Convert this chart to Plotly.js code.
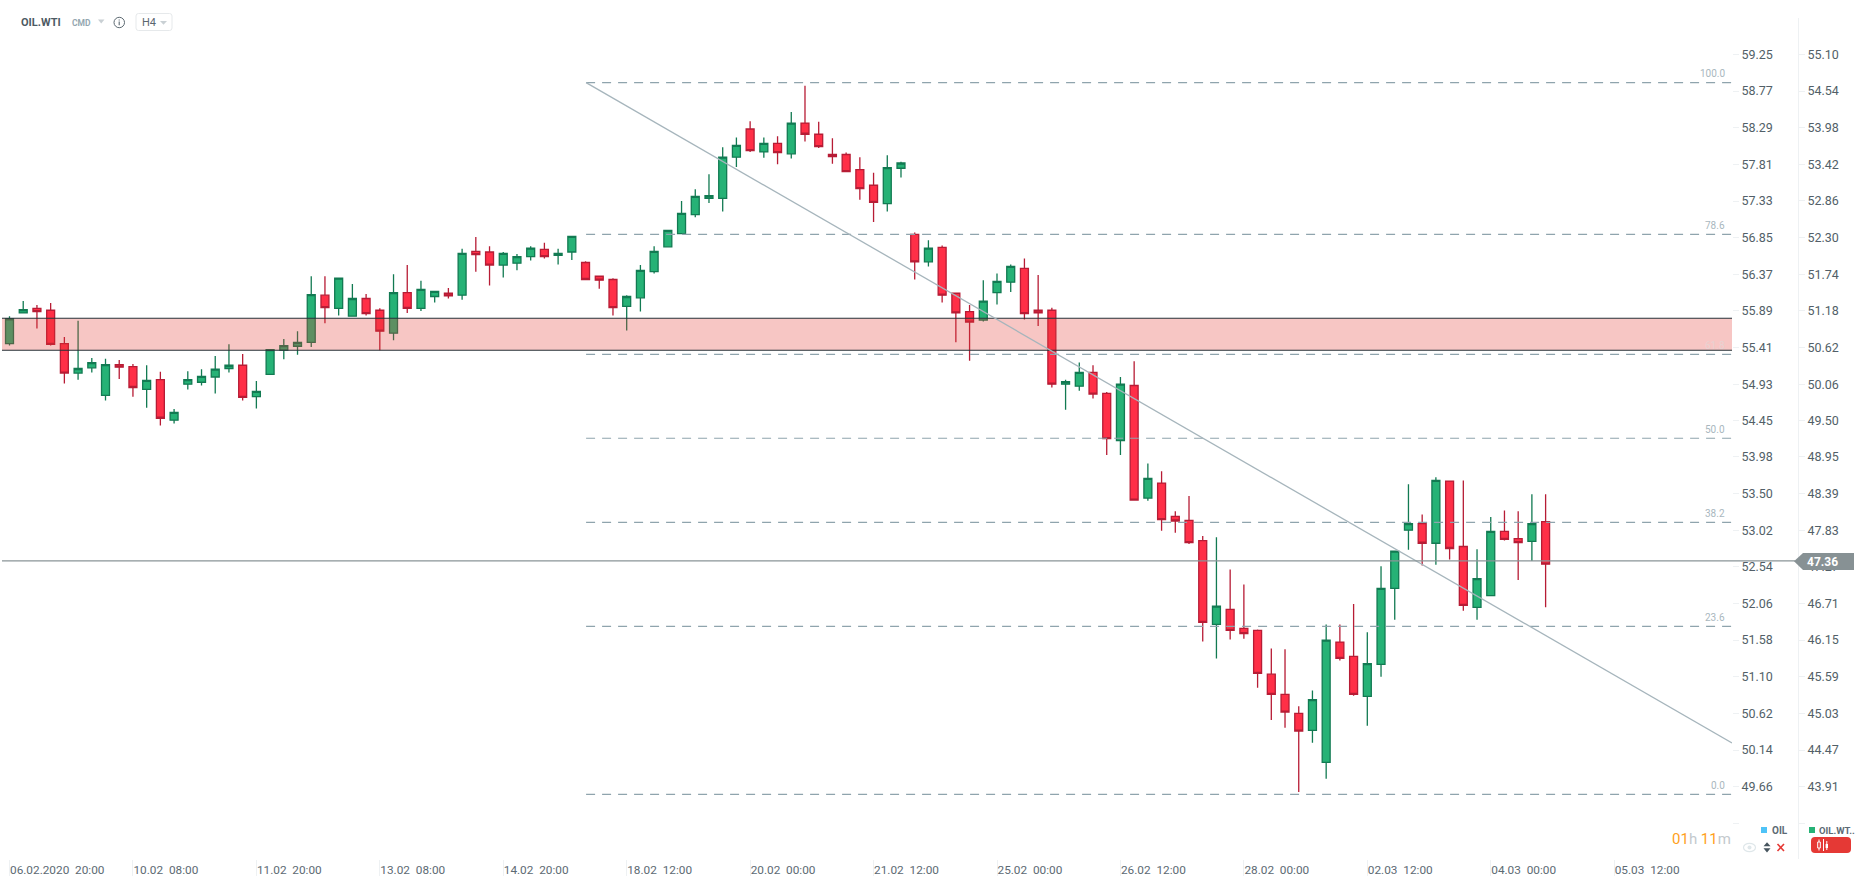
<!DOCTYPE html>
<html>
<head>
<meta charset="utf-8">
<script src="https://cdn.plot.ly/plotly-3.0.1.min.js"></script>
<style>html,body{margin:0;padding:0;background:#fff;overflow:hidden}#chart{width:1866px;height:885px}</style>
</head>
<body>
<div id="chart"></div>
<script>
// OIL.WTI H4 candles (right-hand price scale)
const opens = [
50.68,51.15,51.22,51.19,50.68,50.23,50.31,49.89,50.36,50.33,49.98,50.13,49.51,50.06,50.09,50.17,50.30,50.35,49.87,50.21,
50.58,50.64,50.70,51.42,51.22,51.10,51.37,51.19,50.84,51.46,51.22,51.40,51.45,51.42,52.09,52.08,51.88,51.91,52.01,52.12,
52.03,52.08,51.92,51.71,51.66,51.25,51.38,51.78,52.16,52.36,52.65,52.90,52.90,53.53,53.96,53.61,53.74,53.58,54.05,53.88,
53.57,53.57,53.34,53.10,52.82,53.36,52.35,51.93,52.15,51.45,51.17,51.04,51.46,51.62,51.83,51.19,51.19,50.06,50.03,50.24,
49.92,49.20,50.04,48.32,48.55,48.04,47.98,47.67,46.39,46.62,46.33,46.30,45.63,45.32,45.03,44.77,44.28,46.12,45.90,45.29,
45.78,46.94,47.83,47.93,47.63,48.58,47.58,46.65,46.83,47.81,47.70,47.66,47.96];
const highs = [
51.10,51.33,51.27,51.30,50.78,51.03,50.46,50.45,50.43,50.37,50.35,50.25,49.68,50.26,50.29,50.49,50.67,50.52,50.11,50.59,
50.75,50.87,51.71,51.71,51.68,51.59,51.44,51.22,51.74,51.88,51.64,51.48,51.53,52.13,52.31,52.17,52.08,52.05,52.17,52.22,
52.13,52.32,51.94,51.71,51.68,51.42,51.88,52.17,52.41,52.86,53.04,53.27,53.68,53.83,54.08,53.83,53.85,54.22,54.62,54.07,
53.82,53.60,53.53,53.29,53.56,53.46,52.38,52.26,52.18,51.46,51.27,51.65,51.75,51.89,51.98,51.73,51.23,50.13,50.39,50.35,
49.94,50.17,50.41,48.85,48.73,48.12,48.35,47.74,47.72,47.23,47.00,46.31,46.02,46.01,45.14,45.38,46.39,46.39,46.70,46.27,
47.28,47.51,48.53,48.07,48.64,48.58,48.59,47.54,48.03,48.13,48.12,48.38,48.38];
const lows = [
50.65,51.15,50.91,50.65,50.07,50.13,50.24,49.81,50.14,49.87,49.70,49.43,49.46,49.98,50.04,49.92,50.24,49.81,49.69,50.21,
50.44,50.51,50.63,50.99,51.11,51.10,51.11,50.58,50.73,51.15,51.18,51.31,51.37,51.35,51.78,51.57,51.69,51.80,51.95,51.98,
51.89,51.96,51.66,51.52,51.11,50.88,51.17,51.75,52.15,52.36,52.61,52.83,52.70,53.38,53.61,53.52,53.42,53.51,53.77,53.67,
53.43,53.31,52.88,52.54,52.70,53.22,51.66,51.86,51.31,50.70,50.42,51.02,51.28,51.47,51.05,50.95,50.01,49.67,49.96,49.84,
48.98,48.98,48.29,48.28,47.82,47.79,47.62,46.13,45.87,46.16,46.17,45.42,44.93,44.81,43.83,44.58,44.03,45.84,45.30,44.84,
45.59,46.46,47.53,47.29,47.30,47.38,46.60,46.46,46.83,47.67,47.07,47.36,46.65];
const closes = [
51.06,51.20,51.17,50.67,50.23,50.30,50.39,50.36,50.32,50.01,50.12,49.54,49.63,50.13,50.18,50.29,50.35,49.86,49.95,50.59,
50.65,50.70,51.43,51.23,51.68,51.37,51.14,50.87,51.46,51.22,51.51,51.48,51.41,52.06,52.04,51.88,52.06,52.01,52.14,52.01,
52.06,52.32,51.66,51.65,51.23,51.40,51.80,52.09,52.41,52.67,52.93,52.94,53.53,53.71,53.63,53.74,53.60,54.05,53.88,53.69,
53.54,53.31,53.05,52.84,53.37,53.44,51.93,52.14,51.42,51.15,51.01,51.33,51.63,51.86,51.14,51.15,50.06,50.10,50.24,49.91,
49.23,50.06,48.29,48.62,47.99,47.97,47.64,46.42,46.67,46.30,46.25,45.64,45.32,45.05,44.76,45.24,46.15,45.87,45.32,45.79,
46.94,47.51,47.93,47.63,48.59,47.55,46.68,47.09,47.81,47.69,47.64,47.93,47.31];

const xTickIndex = [0,9,18,27,36,45,54,63,72,81,90,99,108,117];
const xTickText = ['06.02.2020  20:00','10.02  08:00','11.02  20:00','13.02  08:00','14.02  20:00','18.02  12:00','20.02  00:00',
  '21.02  12:00','25.02  00:00','26.02  12:00','28.02  00:00','02.03  12:00','04.03  00:00','05.03  12:00'];

const oilTicks = [59.25,58.77,58.29,57.81,57.33,56.85,56.37,55.89,55.41,54.93,54.45,53.98,53.50,53.02,52.54,52.06,51.58,51.10,50.62,50.14,49.66,49.18];
const oilTickText = ['59.25','58.77','58.29','57.81','57.33','56.85','56.37','55.89','55.41','54.93','54.45','53.98','53.50','53.02','52.54','52.06','51.58','51.10','50.62','50.14','49.66',''];
const wtiTicks = [55.10,54.54,53.98,53.42,52.86,52.30,51.74,51.18,50.62,50.06,49.50,48.95,48.39,47.83,47.27,46.71,46.15,45.59,45.03,44.47,43.91,43.35];
const wtiTickText = ['55.10','54.54','53.98','53.42','52.86','52.30','51.74','51.18','50.62','50.06','49.50','48.95','48.39','47.83','47.27','46.71','46.15','45.59','45.03','44.47','43.91',''];

const fibLevels = ['100.0','78.6','61.8','50.0','38.2','23.6','0.0'];
const fibPrices = [54.668,52.351,50.517,49.234,47.950,46.361,43.794];
const fibStartIndex = 42.04;
const bandPrices = [51.067,50.578];
const trendIndex = [42.04,125.59];
const trendPrices = [54.668,44.578];
const lastPrice = 47.36;

const W = 1866, H = 885;
const px = x => x / W;
const py = y => 1 - y / H;
const xIdx = opens.map((_, i) => i);

const TXT = '#525f68';
const FONT = 'Roboto, "Noto Sans", sans-serif';

const candles = {
  type: 'candlestick', x: xIdx, open: opens, high: highs, low: lows, close: closes,
  xaxis: 'x', yaxis: 'y2', whiskerwidth: 0, hoverinfo: 'skip', showlegend: false,
  increasing: {line: {color: '#127a52', width: 1.3}, fillcolor: '#26b276'},
  decreasing: {line: {color: '#b71c35', width: 1.3}, fillcolor: '#ff2f47'}
};
// left price scale (OIL): carries no drawn series in the picture, only its scale
const oilScale = {type: 'scatter', mode: 'none', x: [0], y: [oilTicks[0]], xaxis: 'x', yaxis: 'y', hoverinfo: 'skip', showlegend: false};

const shapes = [];
// zone
shapes.push({type: 'rect', xref: 'paper', yref: 'y2', x0: px(2), x1: px(1732), y0: bandPrices[1], y1: bandPrices[0],
  fillcolor: 'rgba(229,57,53,0.29)', line: {width: 0}, layer: 'above'});
bandPrices.forEach(p => shapes.push({type: 'line', xref: 'paper', yref: 'y2', x0: px(2), x1: px(1732), y0: p, y1: p,
  line: {color: '#263238', width: 1.1}, layer: 'above'}));
// fibonacci levels
fibPrices.forEach(p => shapes.push({type: 'line', xref: 'x', yref: 'y2', x0: fibStartIndex, x1: trendIndex[1] - 0.05, y0: p, y1: p,
  line: {color: '#8fa4ad', width: 1.2, dash: '9px,7px'}, layer: 'above'}));
// trend line
shapes.push({type: 'line', xref: 'x', yref: 'y2', x0: trendIndex[0], x1: trendIndex[1], y0: trendPrices[0], y1: trendPrices[1],
  line: {color: '#a6b5bc', width: 1.3}, layer: 'above'});
// last price line
shapes.push({type: 'line', xref: 'paper', yref: 'y2', x0: px(2), x1: px(1795), y0: lastPrice, y1: lastPrice,
  line: {color: '#8a9497', width: 1.2}, layer: 'above'});

// widgets drawn in page pixels
const poly = (pts, fill, line) => ({type: 'path', xref: 'paper', yref: 'paper', layer: 'above',
  path: 'M' + pts.map(p => px(p[0]) + ',' + py(p[1])).join(' L') + ' Z',
  fillcolor: fill, line: line || {width: 0}});
const seg = (a, b, color, width) => ({type: 'line', xref: 'paper', yref: 'paper', layer: 'above',
  x0: px(a[0]), y0: py(a[1]), x1: px(b[0]), y1: py(b[1]), line: {color: color, width: width || 1}});
const rect = (x0, y0, x1, y1, fill, line) => ({type: 'rect', xref: 'paper', yref: 'paper', layer: 'above',
  x0: px(x0), x1: px(x1), y0: py(y0), y1: py(y1), fillcolor: fill, line: line || {width: 0}});
const rounded = (x0, y0, x1, y1, r, fill, line) => {
  const X = px, Y = py;
  const rx = r, ry = r;
  return {type: 'path', xref: 'paper', yref: 'paper', layer: 'above', fillcolor: fill, line: line || {width: 0},
    path: `M${X(x0 + rx)},${Y(y0)} L${X(x1 - rx)},${Y(y0)} Q${X(x1)},${Y(y0)} ${X(x1)},${Y(y0 + ry)} L${X(x1)},${Y(y1 - ry)} Q${X(x1)},${Y(y1)} ${X(x1 - rx)},${Y(y1)} L${X(x0 + rx)},${Y(y1)} Q${X(x0)},${Y(y1)} ${X(x0)},${Y(y1 - ry)} L${X(x0)},${Y(y0 + ry)} Q${X(x0)},${Y(y0)} ${X(x0 + rx)},${Y(y0)} Z`};
};
// price tag
shapes.push(poly([[1794,561.3],[1803,553],[1854,553],[1854,570],[1803,570]], '#879194'));
// header widgets
shapes.push(poly([[98,19.5],[104.5,19.5],[101.2,23.5]], '#c9d0d4'));
shapes.push({type: 'circle', xref: 'paper', yref: 'paper', layer: 'above', x0: px(114), x1: px(124.5), y0: py(17.3), y1: py(27.7),
  fillcolor: 'rgba(0,0,0,0)', line: {color: '#5b6870', width: 1}});
shapes.push(seg([119.2,21.5],[119.2,25.3],'#5b6870',1.1));
shapes.push(seg([119.2,19.4],[119.2,20.4],'#5b6870',1.1));
shapes.push(rounded(136,13.5,172,30.5,2.5,'rgba(0,0,0,0)',{color:'#e6e9eb',width:1}));
shapes.push(poly([[160,21],[167,21],[163.5,24.8]], '#c9d0d4'));
// legend squares
shapes.push(rect(1761,827,1767,833,'#4fc3f7'));
shapes.push(rect(1809,827,1815,833,'#26b276'));
// eye icon
shapes.push({type: 'circle', xref: 'paper', yref: 'paper', layer: 'above', x0: px(1743.5), x1: px(1755.5), y0: py(843.3), y1: py(851.7),
  fillcolor: 'rgba(0,0,0,0)', line: {color: '#dfe7ea', width: 1.2}});
shapes.push({type: 'circle', xref: 'paper', yref: 'paper', layer: 'above', x0: px(1747.5), x1: px(1751.5), y0: py(845.5), y1: py(849.5),
  fillcolor: '#dfe7ea', line: {width: 0}});
// up/down arrows
shapes.push(poly([[1763.5,846.3],[1770.5,846.3],[1767,842.3]], '#46545e'));
shapes.push(poly([[1763.5,848.3],[1770.5,848.3],[1767,852.5]], '#46545e'));
// red cross
shapes.push(seg([1777.5,844],[1784,851],'#e53935',1.6));
shapes.push(seg([1784,844],[1777.5,851],'#e53935',1.6));
// series type button
shapes.push(rounded(1811,837,1851,853,4,'#e53935'));
shapes.push(seg([1819,839.5],[1819,850.5],'#ffffff',1));
shapes.push(rect(1817.7,842,1820.3,848,'#e53935',{color:'#ffffff',width:1}));
shapes.push(seg([1823.5,839],[1823.5,851],'#ffffff',1));
shapes.push(seg([1826.8,841],[1826.8,850],'#ffffff',1));
shapes.push(rect(1825.6,844,1828,848,'#ffffff'));

const note = (x, y, text, size, color, extra) => Object.assign({xref: 'paper', yref: 'paper', x: px(x), y: py(y), text: text,
  showarrow: false, xanchor: 'left', yanchor: 'middle', borderpad: 0,
  font: {family: FONT, size: size, color: color}}, extra || {});

const annotations = [
  note(19.5, 22, '<b>OIL.WTI</b>', 11, '#4d5a63'),
  note(71, 22.5, '<b>CMD</b>', 8.5, '#94a7b0'),
  note(141, 22.5, 'H4', 11, '#5a666f'),
  note(1771, 830, '<b>OIL</b>', 10, '#5c6a74'),
  note(1818, 830.5, '<b>OIL.WT..</b>', 9.5, '#5c6a74'),
  note(1806, 561.5, '<b>47.36</b>', 12, '#ffffff'),
  note(1732, 839, '<span style="color:#ff9f1c">01</span><span style="color:#c3c9cd">h </span><span style="color:#ff9f1c">11</span><span style="color:#c3c9cd">m</span>', 15, '#ff9f1c', {xanchor: 'right'})
];
fibLevels.forEach((lbl, i) => annotations.push({
  xref: 'paper', yref: 'y2', x: px(1725.5), y: fibPrices[i], text: lbl, showarrow: false,
  xanchor: 'right', yanchor: 'bottom', yshift: 2.5, borderpad: 0,
  font: {family: FONT, size: 10, color: lbl === '61.8' ? '#e8d2d2' : '#a9b7be'}
}));

const layout = {
  width: W, height: H, autosize: false,
  margin: {l: 0, r: 0, t: 0, b: 0, pad: 0},
  paper_bgcolor: '#ffffff', plot_bgcolor: '#ffffff',
  showlegend: false, boxgap: 0.42, boxgroupgap: 0, dragmode: false, hovermode: false,
  font: {family: FONT, size: 12, color: TXT},
  xaxis: {
    domain: [0, 1732 / W], range: [-0.693, 125.59], type: 'linear', anchor: 'y',
    rangeslider: {visible: false}, showgrid: false, zeroline: false, showline: false,
    tickmode: 'array', tickvals: xTickIndex, ticktext: xTickText,
    ticks: 'outside', ticklen: 16, tickwidth: 1, tickcolor: '#eef1f3',
    ticklabelposition: 'outside right', tickangle: 0,
    tickfont: {family: FONT, size: 11.8, color: '#5d6a73'}
  },
  yaxis: {
    domain: [26 / H, 867 / H], range: [48.713, 59.727], side: 'right', anchor: 'x',
    showgrid: false, zeroline: false, showline: false, fixedrange: true,
    tickmode: 'array', tickvals: oilTicks, ticktext: oilTickText,
    ticks: 'outside', ticklen: 6, tickwidth: 1, tickcolor: '#eef1f3',
    tickfont: {family: FONT, size: 12.5, color: TXT}
  },
  yaxis2: {
    range: [42.805, 55.656], overlaying: 'y', side: 'right', anchor: 'free', position: 1798 / W,
    showgrid: false, zeroline: false, showline: true, linecolor: '#eef1f3', linewidth: 1, fixedrange: true,
    tickmode: 'array', tickvals: wtiTicks, ticktext: wtiTickText,
    ticks: 'outside', ticklen: 6, tickwidth: 1, tickcolor: '#eef1f3',
    tickfont: {family: FONT, size: 12.5, color: TXT}
  },
  shapes: shapes,
  annotations: annotations
};

Plotly.newPlot('chart', [oilScale, candles], layout, {displayModeBar: false, staticPlot: true});
</script>
</body>
</html>
